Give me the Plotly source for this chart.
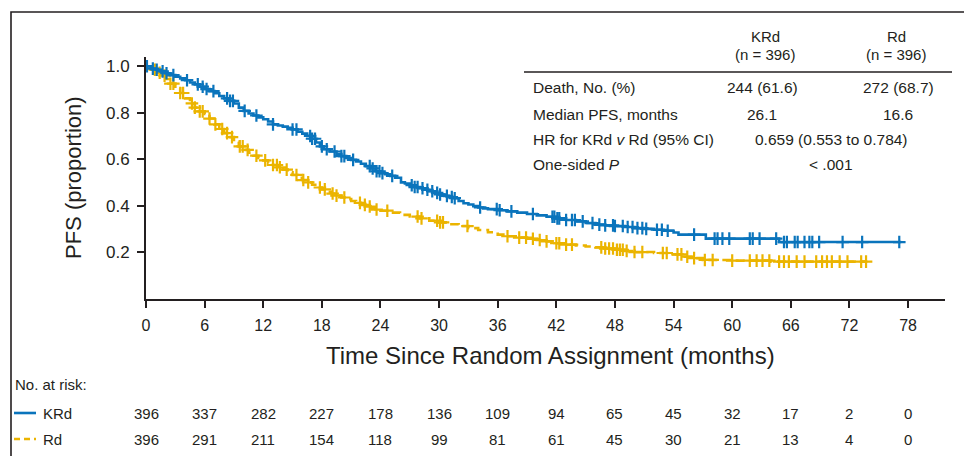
import numpy as np
import plotly.graph_objects as go

W, H = 964, 456

# ---------------- data ----------------
krd_t = [0, 0.5, 1.0, 1.5, 2.0, 2.5, 3.0, 3.5, 4.0, 4.5, 5.0, 5.5, 6.0, 6.5, 7.0, 7.5, 8.0, 8.5, 9.0, 9.5,
         10.0, 10.5, 11.0, 11.5, 12.0, 12.5, 13.0, 13.5, 14.0, 14.5, 15.0, 15.5, 16.0, 16.5, 17.0, 17.4, 17.8,
         18.2, 18.8, 19.5, 20.0, 20.5, 21.0, 21.5, 22.0, 22.5, 23.0, 23.5, 24.0, 24.5, 25.0, 25.5, 26.1, 26.5,
         27.0, 27.5, 28.0, 28.5, 29.0, 29.5, 30.0, 30.5, 31.0, 31.5, 32.0, 32.5, 33.0, 33.5, 34.0, 34.5, 35.0,
         36.0, 37.0, 38.0, 39.0, 40.0, 41.0, 42.0, 43.0, 44.0, 45.0, 46.0, 47.0, 48.0, 49.0, 50.0, 51.0, 52.0,
         53.0, 54.0, 54.5, 57.3, 64.8, 77.3]
krd_s = [1.0, 0.99, 0.985, 0.978, 0.97, 0.962, 0.955, 0.948, 0.94, 0.93, 0.922, 0.912, 0.902, 0.893, 0.884,
         0.872, 0.862, 0.851, 0.84, 0.822, 0.808, 0.797, 0.788, 0.78, 0.772, 0.762, 0.75, 0.745, 0.74, 0.735,
         0.728, 0.718, 0.71, 0.70, 0.688, 0.672, 0.655, 0.643, 0.633, 0.622, 0.613, 0.605, 0.597, 0.59, 0.58,
         0.57, 0.56, 0.548, 0.54, 0.535, 0.528, 0.52, 0.50, 0.495, 0.488, 0.48, 0.475, 0.468, 0.462, 0.455,
         0.448, 0.442, 0.437, 0.432, 0.42, 0.41, 0.405, 0.398, 0.392, 0.388, 0.385, 0.38, 0.375, 0.37, 0.364,
         0.358, 0.352, 0.345, 0.338, 0.332, 0.325, 0.318, 0.315, 0.312, 0.308, 0.303, 0.30, 0.296, 0.292,
         0.284, 0.275, 0.258, 0.243, 0.243]
krd_cens = [0.1, 0.7, 1.1, 1.7, 2.1, 2.8, 4.2, 5.3, 5.8, 6.2, 6.9, 8.3, 8.6, 8.9, 10.1, 11.3, 13.0, 15.0, 15.4,
            16.8, 17.0, 17.3, 18.0, 18.5, 19.3, 20.0, 20.3, 21.2, 22.9, 23.2, 23.6, 23.9, 24.2, 25.2, 27.2,
            27.5, 27.8, 28.3, 28.8, 29.3, 29.8, 30.1, 30.8, 31.3, 31.6, 34.2, 35.9, 36.2, 37.4, 39.6, 41.6,
            41.8, 42.1, 42.3, 43.0, 43.6, 43.9, 44.7, 45.7, 46.4, 47.0, 47.8, 48.0, 48.8, 49.3, 49.8, 50.3,
            50.8, 51.2, 52.3, 52.8, 53.4, 56.1, 58.2, 58.5, 59.0, 59.7, 61.8, 62.1, 62.8, 64.5, 65.3, 65.6,
            66.4, 66.7, 67.4, 67.9, 68.2, 68.9, 71.3, 73.3, 77.1]

rd_t = [0, 0.5, 1.0, 1.5, 2.0, 2.5, 3.0, 3.5, 4.0, 4.5, 5.0, 5.5, 6.0, 6.5, 7.0, 7.5, 8.0, 8.5, 9.0, 9.5,
        10.0, 10.5, 11.0, 11.5, 12.0, 12.5, 13.0, 13.5, 14.0, 14.5, 15.0, 15.5, 16.0, 16.6, 17.0, 17.5, 18.0,
        18.5, 19.0, 19.5, 20.0, 20.5, 21.0, 21.5, 22.0, 22.5, 23.0, 23.5, 24.0, 25.0, 26.0, 27.0, 28.0, 29.0,
        30.0, 31.0, 32.0, 33.0, 34.0, 35.0, 36.0, 37.0, 38.0, 39.0, 40.0, 41.0, 42.0, 43.0, 44.0, 45.0, 46.0,
        47.0, 48.0, 49.0, 50.0, 52.0, 53.5, 55.0, 56.0, 57.0, 60.0, 64.0, 73.8]
rd_s = [1.0, 0.985, 0.972, 0.96, 0.945, 0.925, 0.905, 0.885, 0.862, 0.84, 0.822, 0.806, 0.795, 0.775, 0.75,
        0.73, 0.712, 0.695, 0.675, 0.655, 0.64, 0.628, 0.615, 0.605, 0.595, 0.585, 0.575, 0.565, 0.555, 0.543,
        0.532, 0.52, 0.51, 0.50, 0.49, 0.478, 0.47, 0.46, 0.452, 0.443, 0.435, 0.428, 0.42, 0.412, 0.403,
        0.396, 0.39, 0.383, 0.378, 0.37, 0.36, 0.353, 0.345, 0.335, 0.328, 0.32, 0.312, 0.303, 0.295, 0.285,
        0.275, 0.268, 0.262, 0.257, 0.252, 0.246, 0.238, 0.232, 0.228, 0.224, 0.22, 0.215, 0.21, 0.205, 0.2,
        0.196, 0.19, 0.18, 0.174, 0.166, 0.163, 0.159, 0.159]
rd_cens = [0.9, 1.4, 1.9, 2.5, 2.8, 3.5, 3.8, 4.7, 5.0, 5.5, 5.8, 6.5, 7.1, 7.8, 8.3, 8.8, 9.6, 9.9, 10.4,
           11.3, 12.2, 13.0, 13.4, 13.7, 14.4, 15.4, 16.1, 16.6, 17.8, 18.3, 19.1, 19.5, 20.3, 21.9, 22.4,
           22.9, 23.6, 24.7, 27.8, 28.2, 29.8, 30.1, 30.4, 32.9, 37.0, 38.2, 38.9, 39.6, 40.3, 41.0, 42.0,
           42.3, 43.0, 43.6, 46.6, 47.0, 47.4, 47.8, 48.2, 48.5, 48.8, 49.2, 50.0, 50.8, 52.9, 53.3, 54.4,
           54.8, 55.4, 56.1, 57.2, 58.0, 60.0, 61.8, 62.5, 63.1, 63.8, 64.8, 65.3, 65.8, 66.6, 67.4, 68.6,
           69.2, 69.7, 70.2, 71.0, 71.8, 73.2, 73.7]

x_ticks = [0, 6, 12, 18, 24, 30, 36, 42, 48, 54, 60, 66, 72, 78]
y_ticks = [0.2, 0.4, 0.6, 0.8, 1.0]
risk_krd = [396, 337, 282, 227, 178, 136, 109, 94, 65, 45, 32, 17, 2, 0]
risk_rd = [396, 291, 211, 154, 118, 99, 81, 61, 45, 30, 21, 13, 4, 0]

tbl_groups = ["KRd", "Rd"]
tbl_n = ["(n = 396)", "(n = 396)"]
tbl_labels = ["Death, No. (%)", "Median PFS, months", "HR for KRd <i>v</i> Rd (95% CI)", "One-sided <i>P</i>"]
tbl_krd = ["244 (61.6)", "26.1"]
tbl_rd = ["272 (68.7)", "16.6"]
tbl_joint = ["0.659 (0.553 to 0.784)", "< .001"]

BLUE = "#0A74BC"
YEL = "#EBB400"
INK = "#231F20"
FONT = "Liberation Sans, Arial, sans-serif"


def px(x):
    return x / W


def py(y):
    return 1 - y / H


def step_at(ts, ss, c):
    ts = np.asarray(ts)
    ss = np.asarray(ss)
    return ss[np.searchsorted(ts, c, side="right") - 1]


fig = go.Figure()
fig.add_trace(go.Scatter(x=rd_t, y=rd_s, mode="lines", line=dict(color=YEL, width=2.6, dash="9px,5px", shape="hv"),
                         showlegend=False, hoverinfo="skip"))
fig.add_trace(go.Scatter(x=rd_cens, y=step_at(rd_t, rd_s, rd_cens), mode="markers",
                         marker=dict(symbol="cross-thin", size=9, line=dict(color=YEL, width=2.2)),
                         showlegend=False, hoverinfo="skip"))
fig.add_trace(go.Scatter(x=krd_t, y=krd_s, mode="lines", line=dict(color=BLUE, width=2.6, shape="hv"),
                         showlegend=False, hoverinfo="skip"))
fig.add_trace(go.Scatter(x=krd_cens, y=step_at(krd_t, krd_s, krd_cens), mode="markers",
                         marker=dict(symbol="cross-thin", size=9, line=dict(color=BLUE, width=2.2)),
                         showlegend=False, hoverinfo="skip"))

x_left, x_right = 146, 945
y_top, y_bot = 57, 298.5

fig.update_layout(
    width=W, height=H, autosize=False,
    margin=dict(l=0, r=0, t=0, b=0, autoexpand=False),
    paper_bgcolor="white", plot_bgcolor="white",
    xaxis=dict(domain=[px(x_left), px(x_right)], range=[0, (x_right - x_left) / 9.77], automargin=False,
               tickvals=x_ticks, ticktext=[str(v) for v in x_ticks],
               ticks="outside", ticklen=7, tickwidth=1.8, tickcolor=INK,
               showline=True, linecolor=INK, linewidth=2, showgrid=False, zeroline=False,
               tickfont=dict(family=FONT, size=16, color=INK), ticklabelstandoff=4),
    yaxis=dict(domain=[py(y_bot), py(y_top)], range=[0, 1.04], automargin=False,
               tickvals=y_ticks, ticktext=["%.1f" % v for v in y_ticks],
               ticks="outside", ticklen=7, tickwidth=1.8, tickcolor=INK,
               showline=True, linecolor=INK, linewidth=2, showgrid=False, zeroline=False,
               tickfont=dict(family=FONT, size=17, color=INK), ticklabelstandoff=4),
)

shapes = []
# outer frame (open to right / bottom)
shapes.append(dict(type="path", xref="paper", yref="paper",
                   path=f"M {px(11)} {py(458)} L {px(11)} {py(12)} L {px(968)} {py(12)}",
                   line=dict(color=INK, width=1.6)))
# table header rule
shapes.append(dict(type="line", xref="paper", yref="paper", x0=px(524), x1=px(952), y0=py(72), y1=py(72),
                   line=dict(color=INK, width=1.4)))
# risk-table legend samples
shapes.append(dict(type="line", xref="paper", yref="paper", x0=px(14), x1=px(36), y0=py(413), y1=py(413),
                   line=dict(color=BLUE, width=2.6)))
shapes.append(dict(type="line", xref="paper", yref="paper", x0=px(14), x1=px(36), y0=py(439), y1=py(439),
                   line=dict(color=YEL, width=2.6, dash="6px,4px")))
fig.update_layout(shapes=shapes)

ann = []


def text(x, y, s, size=16, anchor="center", xref="paper", angle=0):
    ann.append(dict(x=x, y=py(y), xref=xref, yref="paper", text=s, showarrow=False, textangle=angle,
                    xanchor=anchor, yanchor="middle", borderpad=0,
                    font=dict(family=FONT, size=size, color=INK)))


# axis titles
text(px(73), 178, "PFS (proportion)", size=22, angle=-90)
text(px(550), 355, "Time Since Random Assignment (months)", size=24)

# summary table
col_x = [765, 896]
for i, g in enumerate(tbl_groups):
    text(px(col_x[i]), 37, g, size=15)
    text(px(col_x[i]), 55, tbl_n[i], size=15)
row_y = [88, 114, 139, 164]
for i, lab in enumerate(tbl_labels):
    text(px(532), row_y[i], lab, anchor="left", size=15.5)
for i in range(2):
    text(px(762), row_y[i], tbl_krd[i], size=15.5)
    text(px(898), row_y[i], tbl_rd[i], size=15.5)
for i in range(2):
    text(px(831), row_y[2 + i], tbl_joint[i], size=15.5)

# risk table
text(px(14), 384, "No. at risk:", size=15, anchor="left")
text(px(42), 413, "KRd", size=15, anchor="left")
text(px(42), 439, "Rd", size=15, anchor="left")
for xv, a, b in zip(x_ticks, risk_krd, risk_rd):
    text(xv, 413, str(a), size=15, xref="x")
    text(xv, 439, str(b), size=15, xref="x")

fig.update_layout(annotations=ann)
fig.write_html("out.html", config={"displayModeBar": False},
               post_script="document.body.style.margin='0';document.body.style.overflow='hidden';")
